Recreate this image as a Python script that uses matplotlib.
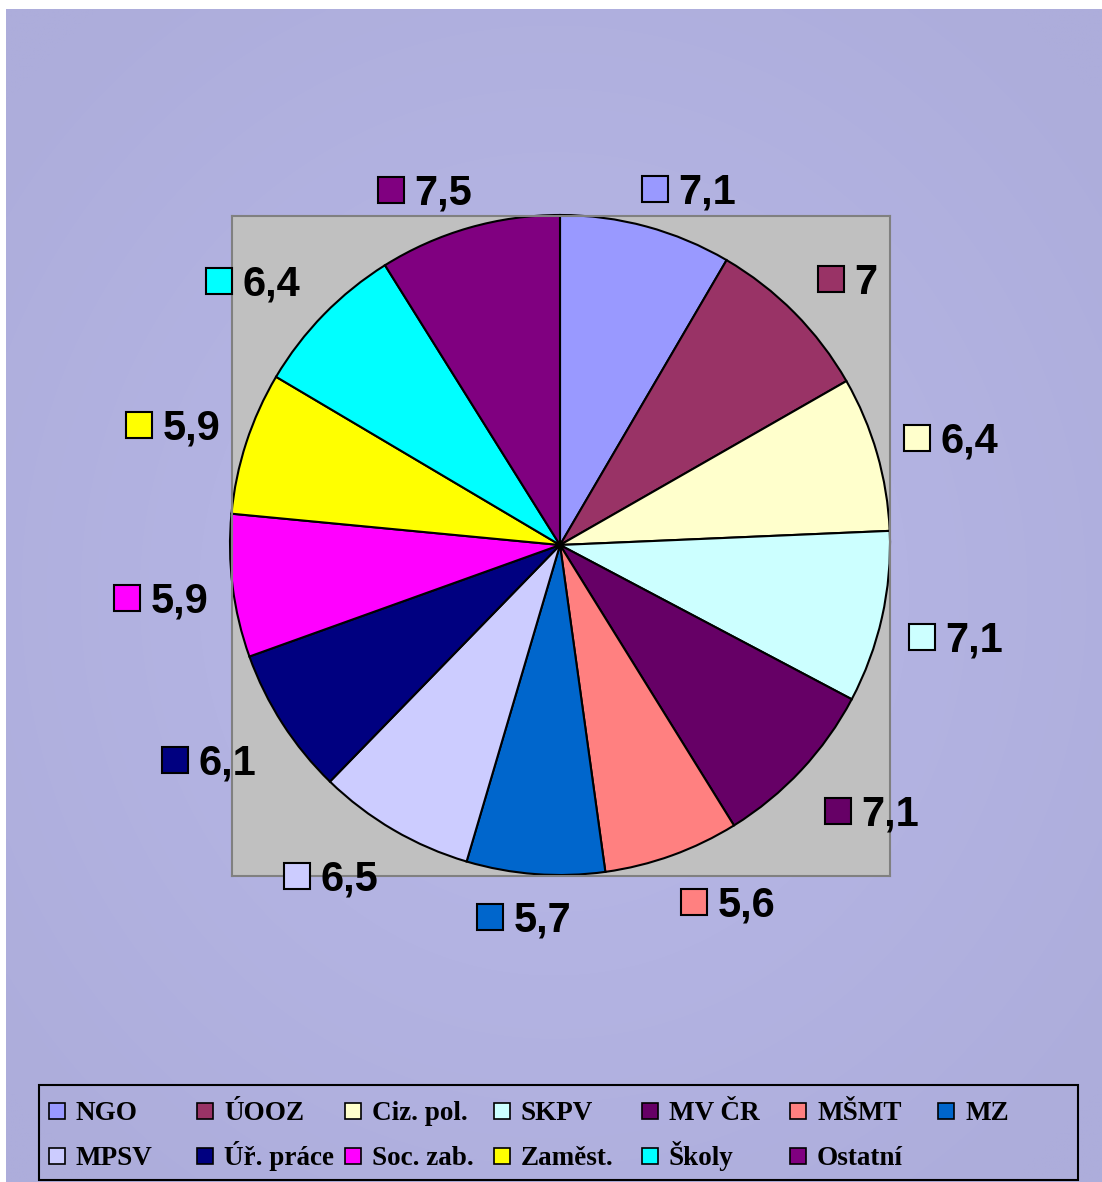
import numpy as np
import matplotlib
matplotlib.use("Agg")
import matplotlib.pyplot as plt
from matplotlib.patches import Rectangle
from matplotlib.transforms import IdentityTransform
from matplotlib.font_manager import FontProperties
from matplotlib.textpath import TextPath

kategorie = ["NGO", "ÚOOZ", "Ciz. pol.", "SKPV", "MV ČR", "MŠMT", "MZ",
             "MPSV", "Úř. práce", "Soc. zab.", "Zaměst.", "Školy", "Ostatní"]
hodnoty = [7.1, 7.0, 6.4, 7.1, 7.1, 5.6, 5.7, 6.5, 6.1, 5.9, 5.9, 6.4, 7.5]
popisky = ["7,1", "7", "6,4", "7,1", "7,1", "5,6", "5,7", "6,5", "6,1", "5,9", "5,9", "6,4", "7,5"]
barvy = ["#9999FF", "#993366", "#FFFFCC", "#CCFFFF", "#660066", "#FF8080", "#0066CC",
         "#CCCCFF", "#000080", "#FF00FF", "#FFFF00", "#00FFFF", "#800080"]

W, H = 1102, 1182
fig = plt.figure(figsize=(W / 100, H / 100), dpi=100)
fig.patch.set_facecolor("white")

# pozadi s radialnim prechodem
bg = fig.add_axes([6 / W, 0, (W - 6) / W, (H - 9) / H])
bg.set_axis_off()
yy, xx = np.mgrid[-1:1:300j, -1:1:300j]
rr = np.clip(np.sqrt(xx ** 2 + yy ** 2) / 1.3, 0, 1)
stred = np.array([185, 185, 233]) / 255
okraj = np.array([173, 173, 219]) / 255
img = stred[None, None, :] * (1 - rr[..., None]) + okraj[None, None, :] * rr[..., None]
bg.imshow(img, extent=[0, 1, 0, 1], aspect="auto", interpolation="bilinear")
bg.set_xlim(0, 1)
bg.set_ylim(0, 1)

# kolac (sedy obdelnik 232..890 x 216..876 px, stred 560,545, polomer 330)
ax = fig.add_axes([232 / W, (H - 876) / H, 658 / W, 660 / H])
wedges, _ = ax.pie(hodnoty, colors=barvy, startangle=90, counterclock=False, radius=1,
                   frame=True, wedgeprops=dict(edgecolor="black", linewidth=1.5))
ax.set_facecolor("#C0C0C0")
for s in ax.spines.values():
    s.set_edgecolor("#808080")
    s.set_linewidth(1.5)
ax.set_xticks([])
ax.set_yticks([])
ax.set_xlim((232 - 560) / 330, (890 - 560) / 330)
ax.set_ylim((545 - 876) / 330, (545 - 216) / 330)
ax.set_aspect("auto")

# popisky dat: ctverecek + hodnota
k = 100 / 72
fp = FontProperties(family="Liberation Sans", weight="bold", size=30)
pc = ax.transData.transform((0, 0))
rad_px = ax.transData.transform((1, 0))[0] - pc[0]
ms, gap, th = 26, 12, 29
for w, txt, c in zip(wedges, popisky, barvy):
    a = np.deg2rad((w.theta1 + w.theta2) / 2)
    sx, sy = np.cos(a), np.sin(a)
    ext = TextPath((0, 0), txt, prop=fp).get_extents()
    tw = ext.width * k
    wt = ms + gap + tw
    R = 1.07 + 0.03 * abs(np.sin(2 * a))
    fx = np.clip(sx / 0.35, -1, 1)
    fy = np.clip(sy / 0.35, -1, 1)
    ccx = pc[0] + R * rad_px * sx + fx * wt / 2
    ccy = pc[1] + R * rad_px * sy + fy * th / 2 - 4
    left = ccx - wt / 2
    fig.add_artist(Rectangle((left, ccy - ms / 2), ms, ms, facecolor=c, edgecolor="black",
                             linewidth=1.5, transform=IdentityTransform()))
    fig.text(left + ms + gap - ext.x0 * k, ccy - th / 2, txt, fontproperties=fp,
             ha="left", va="baseline", transform=IdentityTransform())

# legenda (2 radky po 7 sloupcich)
lfp = FontProperties(family="Liberation Serif", weight="bold", size=19.5)
fig.add_artist(Rectangle((39, H - 1180), 1039, 95, facecolor="none", edgecolor="black",
                         linewidth=1.5, transform=IdentityTransform()))
for i, (nazev, c) in enumerate(zip(kategorie, barvy)):
    radek, sloupec = divmod(i, 7)
    x0 = 49 + sloupec * 148.2
    yc = H - (1110.5 + radek * 45)
    fig.add_artist(Rectangle((x0, yc - 8), 16, 16, facecolor=c, edgecolor="black",
                             linewidth=1.2, transform=IdentityTransform()))
    fig.text(x0 + 27, yc - 9.5, nazev, fontproperties=lfp, ha="left", va="baseline",
             transform=IdentityTransform())

fig.savefig("out.png", dpi=100)
